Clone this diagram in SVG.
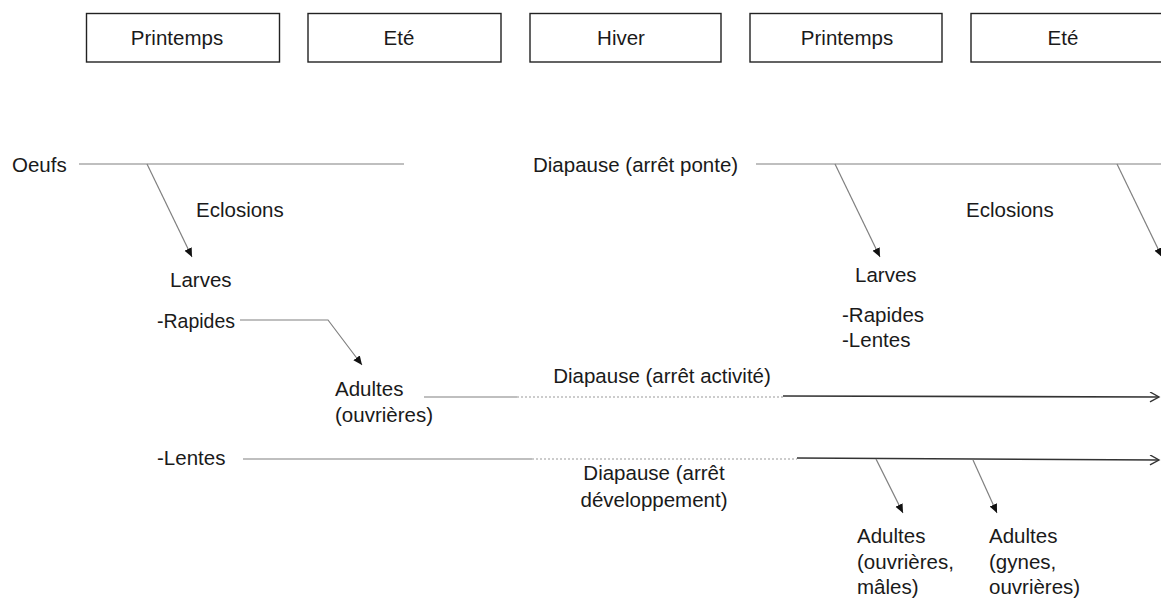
<svg xmlns="http://www.w3.org/2000/svg" width="1161" height="601" viewBox="0 0 1161 601">
<style>
text{font-family:"Liberation Sans",Arial,sans-serif;font-size:20.5px;fill:#1a1a1a}
.box{fill:#fff;stroke:#222;stroke-width:1.4}
.ln{stroke:#808080;stroke-width:1.2;fill:none}
.dk{stroke:#333;stroke-width:1.6;fill:none}
.dot{stroke:#9a9a9a;stroke-width:1.2;stroke-dasharray:2 2;fill:none}
.mid{text-anchor:middle}
</style>
<defs>
<marker id="ah" markerUnits="userSpaceOnUse" markerWidth="10" markerHeight="9" refX="9" refY="4" orient="auto">
<path d="M0,0 L9,4 L0,8 z" fill="#111"/>
</marker>
<marker id="oh" markerUnits="userSpaceOnUse" markerWidth="12" markerHeight="12" refX="10" refY="5" orient="auto">
<path d="M1,0 L10,5 L1,10" fill="none" stroke="#333" stroke-width="1.4"/>
</marker>
</defs>
<g id="seasons">
<g id="s1"><rect class="box" x="86.5" y="13.5" width="193" height="48.5"/><text class="mid" x="177" y="45">Printemps</text></g>
<g id="s2"><rect class="box" x="308" y="13.5" width="193" height="48.5"/><text class="mid" x="399" y="45">Eté</text></g>
<g id="s3"><rect class="box" x="530" y="13.5" width="191" height="48.5"/><text class="mid" x="621" y="45">Hiver</text></g>
<g id="s4"><rect class="box" x="750" y="13.5" width="192" height="48.5"/><text class="mid" x="847" y="45">Printemps</text></g>
<g id="s5"><rect class="box" x="971" y="13.5" width="200" height="48.5"/><text class="mid" x="1063" y="45">Eté</text></g>
</g>
<g id="connectors">
<line class="ln" x1="79" y1="164" x2="404" y2="164"/>
<line class="ln" x1="147" y1="164" x2="192" y2="257" marker-end="url(#ah)"/>
<polyline class="ln" points="240,320 328,320 362,365" marker-end="url(#ah)"/>
<line class="ln" x1="424" y1="397" x2="517" y2="397"/>
<line class="dot" x1="517" y1="397" x2="785" y2="397"/>
<line class="dk" x1="783" y1="396" x2="1159" y2="397" marker-end="url(#oh)"/>
<line class="ln" x1="243" y1="459" x2="532" y2="459"/>
<line class="dot" x1="532" y1="459" x2="797" y2="459"/>
<line class="dk" x1="797" y1="458" x2="1159" y2="460" marker-end="url(#oh)"/>
<line class="ln" x1="876" y1="459" x2="903" y2="513" marker-end="url(#ah)"/>
<line class="ln" x1="973" y1="460" x2="997" y2="513" marker-end="url(#ah)"/>
<line class="ln" x1="756" y1="164" x2="1161" y2="164"/>
<line class="ln" x1="835" y1="164" x2="880" y2="257" marker-end="url(#ah)"/>
<line class="ln" x1="1117" y1="164" x2="1162" y2="257" marker-end="url(#ah)"/>
</g>
<g id="oeufs"><text x="12" y="172">Oeufs</text></g>
<g id="eclosions1"><text x="196" y="217">Eclosions</text></g>
<g id="larves1"><text x="170" y="287">Larves</text></g>
<g id="rapides1"><text x="157" y="328" textLength="78" lengthAdjust="spacingAndGlyphs">-Rapides</text></g>
<g id="adultes1"><text x="335" y="396">Adultes</text><text x="335" y="422">(ouvrières)</text></g>
<g id="lentes1"><text x="157" y="465">-Lentes</text></g>
<g id="diapause-activite"><text class="mid" x="662" y="383">Diapause (arrêt activité)</text></g>
<g id="diapause-dev"><text class="mid" x="654" y="480">Diapause (arrêt</text><text class="mid" x="654" y="507">développement)</text></g>
<g id="diapause-ponte"><text x="533" y="172">Diapause (arrêt ponte)</text></g>
<g id="eclosions2"><text x="966" y="217">Eclosions</text></g>
<g id="larves2"><text x="855" y="282">Larves</text><text x="842" y="322">-Rapides</text><text x="842" y="347">-Lentes</text></g>
<g id="adultes2"><text x="857" y="543">Adultes</text><text x="857" y="569">(ouvrières,</text><text x="857" y="594">mâles)</text></g>
<g id="adultes3"><text x="989" y="543">Adultes</text><text x="989" y="569">(gynes,</text><text x="989" y="594">ouvrières)</text></g>
</svg>
